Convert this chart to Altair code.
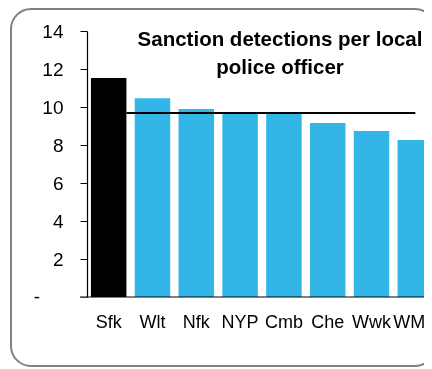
import altair as alt
import pandas as pd

# ---- data ----
cats = ["Sfk", "Wlt", "Nfk", "NYP", "Cmb", "Che", "Wwk", "WMP"]
vals = [11.53, 10.46, 9.89, 9.66, 9.66, 9.16, 8.74, 8.26]
avg_value = 9.68
avg_from = "Sfk"
avg_to = "WMP"
title_lines = ["Sanction detections per local", "police officer"]
y_ticks = [0, 2, 4, 6, 8, 10, 12, 14]
zero_label = "-"

BLUE = "#31b6e7"
FONT = "Liberation Sans"

df = pd.DataFrame({"cat": cats, "val": vals,
                   "hl": ["yes"] + ["no"] * (len(cats) - 1)})
avg_df = pd.DataFrame({"from": [avg_from], "to": [avg_to], "v": [avg_value]})
one = pd.DataFrame({"a": [0]})

xscale = alt.Scale(domain=cats, paddingInner=0.19, paddingOuter=0.09, range=[0, 350])
yscale = alt.Scale(domain=[0, 14], nice=False)

xaxis = alt.Axis(labelAngle=0, labelFont=FONT, labelFontSize=18,
                 labelColor="black", labelPadding=16, ticks=False,
                 labelOverlap=False, domain=False)
yaxis = alt.Axis(values=y_ticks, grid=False, labelFont=FONT,
                 labelFontSize=19, labelColor="black", labelOverlap=False,
                 labelExpr="datum.value == 0 ? '' : datum.label",
                 labelPadding=17, tickSize=7,
                 tickColor={"condition": {"test": "datum.value == 0", "value": "#808080"},
                            "value": "black"},
                 domainColor="black", domainWidth=1.2)

bars = alt.Chart(df).mark_bar(clip=False).encode(
    x=alt.X("cat:N", scale=xscale, sort=cats, title=None, axis=xaxis),
    y=alt.Y("val:Q", scale=yscale, title=None, axis=yaxis),
    color=alt.Color("hl:N", scale=alt.Scale(domain=["yes", "no"], range=["#000000", BLUE]),
                    legend=None),
)

# x-axis baseline, multiplied over the bars
base_line = alt.Chart(one).mark_rule(color="#808080", strokeWidth=2, blend="multiply").encode(
    x=alt.value(-7), x2=alt.value(350),
    y=alt.Y(datum=0, scale=yscale, title=None, axis=yaxis),
)

zero_text = alt.Chart(one).mark_text(
    text=zero_label, font=FONT, fontSize=19, align="right", baseline="middle", color="black",
).encode(x=alt.value(-47), y=alt.Y(datum=0, scale=yscale, title=None, axis=yaxis))

rule = alt.Chart(avg_df).mark_rule(color="black", strokeWidth=2).encode(
    x=alt.X("from:N", scale=xscale, bandPosition=1, title=None, axis=xaxis),
    x2=alt.X2("to:N", bandPosition=0.5),
    y=alt.Y("v:Q", scale=yscale, title=None, axis=yaxis),
)

title_text = alt.Chart(one).mark_text(
    text=title_lines, font=FONT, fontSize=20.5, fontWeight="bold",
    align="center", baseline="alphabetic", lineHeight=28, color="black",
).encode(x=alt.value(193), y=alt.value(15))

border = alt.Chart(one).mark_rect(
    fillOpacity=0, stroke="#808080", strokeWidth=2, cornerRadius=20, clip=False
).encode(x=alt.value(-76), x2=alt.value(348), y=alt.value(-22), y2=alt.value(335))

chart = alt.layer(border, bars, base_line, rule, title_text, zero_text).properties(
    width=337, height=266,
    padding={"left": 79, "top": 23, "right": 0, "bottom": 70},
    autosize=alt.AutoSizeParams(type="none"),
).configure_view(strokeWidth=0)

chart.save("out.html", embed_options={"renderer": "svg", "actions": False})
